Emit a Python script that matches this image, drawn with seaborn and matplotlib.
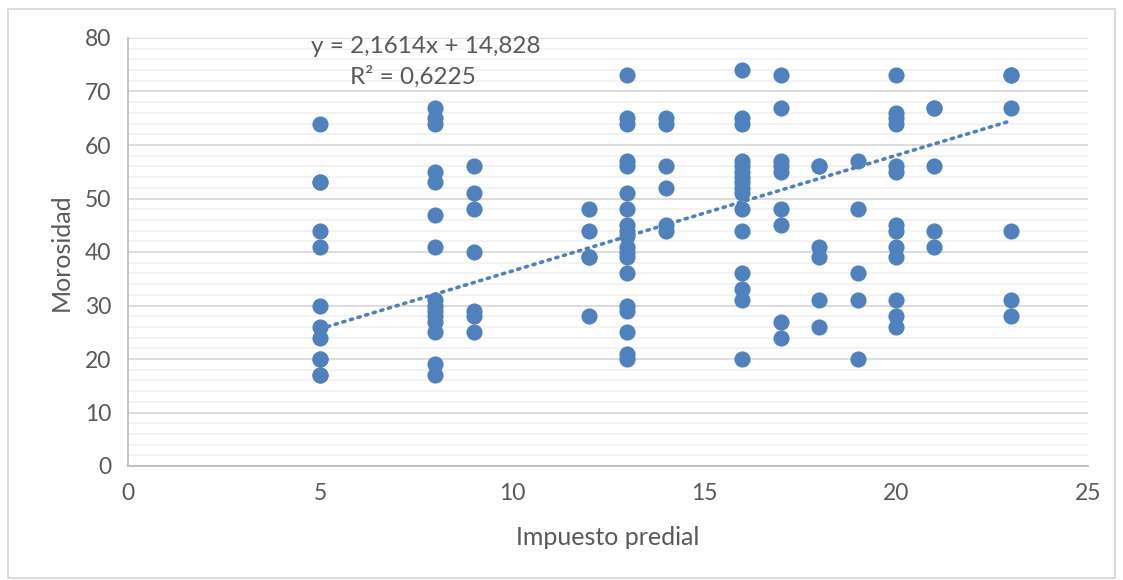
import numpy as np
import pandas as pd
import matplotlib
matplotlib.use("Agg")
import matplotlib.pyplot as plt
from matplotlib.patches import Rectangle
from matplotlib.ticker import MultipleLocator
import seaborn as sns

# ---- data ----
x5 = [64, 53, 53, 44, 41, 30, 26, 24, 20, 20, 17, 17]
x8 = [67, 65, 64, 55, 53, 47, 41, 31, 30, 29, 28, 27, 25, 19, 17]
x9 = [56, 51, 48, 40, 29, 28, 25]
x12 = [48, 44, 39, 39, 28]
x13 = [73, 65, 64, 57, 56, 51, 48, 45, 44, 43, 41, 40, 39, 36, 30, 29, 25, 21, 20]
x14 = [65, 64, 56, 52, 45, 44]
x16 = [74, 65, 64, 57, 56, 55, 54, 53, 52, 51, 48, 44, 36, 33, 31, 20]
x17 = [73, 67, 57, 56, 55, 48, 45, 27, 24]
x18 = [56, 56, 41, 39, 31, 26]
x19 = [57, 48, 36, 31, 20]
x20 = [73, 66, 65, 64, 56, 55, 45, 44, 41, 39, 31, 28, 26]
x21 = [67, 67, 56, 44, 41]
x23 = [73, 73, 67, 44, 31, 28]

impuesto_values = [5, 8, 9, 12, 13, 14, 16, 17, 18, 19, 20, 21, 23]
morosidad_groups = [x5, x8, x9, x12, x13, x14, x16, x17, x18, x19, x20, x21, x23]

slope = 2.1614
intercept = 14.828
eq_text = "y = 2,1614x + 14,828"
r2_text = "R² = 0,6225"

x_label = "Impuesto predial"
y_label = "Morosidad"

rows = []
for xv, grp in zip(impuesto_values, morosidad_groups):
    for yv in grp:
        rows.append((xv, yv))
df = pd.DataFrame(rows, columns=["Impuesto predial", "Morosidad"])

# ---- styling ----
sns.set_theme(style="white")
plt.rcParams['font.family'] = ['Lato', 'DejaVu Sans']

W, H = 1123, 580
fig = plt.figure(figsize=(W / 100, H / 100), dpi=100)
ax = fig.add_axes([128 / W, 1 - 466 / H, (1088 - 128) / W, (466 - 38) / H])

blue = "#4F81BD"
text_gray = "#595959"

sns.scatterplot(data=df, x="Impuesto predial", y="Morosidad", ax=ax,
                color=blue, s=135, edgecolor=blue, linewidth=0, zorder=3)

xs = np.array([min(impuesto_values), max(impuesto_values)], dtype=float)
ax.plot(xs, slope * xs + intercept, linestyle=(0, (0.6, 1.6)), color=blue,
        linewidth=2.6, dash_capstyle="round", zorder=4)

ax.set_xlim(0, 25)
ax.set_ylim(0, 80)
ax.xaxis.set_major_locator(MultipleLocator(5))
ax.yaxis.set_major_locator(MultipleLocator(10))
ax.yaxis.set_minor_locator(MultipleLocator(2))

ax.grid(False)
ax.yaxis.grid(True, which="major", color="#D9D9D9", linewidth=1.3, zorder=0)
ax.yaxis.grid(True, which="minor", color="#F2F2F2", linewidth=1.3, zorder=0)
ax.set_axisbelow(True)

for side in ["top", "right"]:
    ax.spines[side].set_visible(False)
for side in ["left", "bottom"]:
    ax.spines[side].set_color("#BFBFBF")
    ax.spines[side].set_linewidth(1.3)

ax.tick_params(axis="both", which="major", direction="out", length=6, width=1.3,
               color="#BFBFBF", labelsize=16.5, labelcolor=text_gray, pad=6)
ax.tick_params(axis="y", which="minor", length=0)

ax.set_xlabel(x_label, fontsize=18, color=text_gray, labelpad=16)
ax.set_ylabel(y_label, fontsize=18, color=text_gray)
ax.yaxis.set_label_coords((73 - 128) / 960, 0.5)

ax.text(7.76, 78.4, eq_text, ha="center", va="center", fontsize=17.5, color=text_gray)
ax.text(7.42, 72.8, r2_text, ha="center", va="center", fontsize=17.5, color=text_gray)

# chart area border
fig.patches.append(Rectangle((8 / W, 2 / H), (1115 - 8) / W, (571 - 2) / H,
                             transform=fig.transFigure, fill=False,
                             edgecolor="#D9D9D9", linewidth=1.3))

fig.savefig("out.png", dpi=100)
